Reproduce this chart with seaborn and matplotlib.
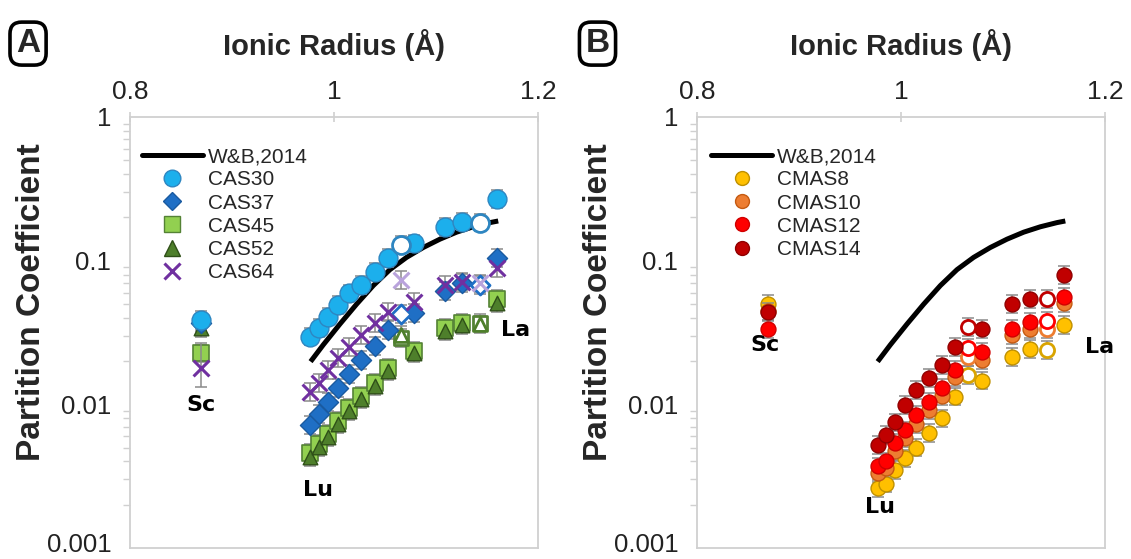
import numpy as np
import pandas as pd
import matplotlib
matplotlib.use("Agg")
import matplotlib.pyplot as plt
import matplotlib.transforms as mtransforms
import seaborn as sns
from matplotlib.lines import Line2D
from matplotlib.ticker import FixedLocator, LogLocator, NullFormatter

# ---------------- data ----------------
elements = ["Lu", "Yb", "Tm", "Er", "Ho", "Dy", "Tb", "Gd", "Eu", "Sm", "Nd", "Pr", "Ce", "La"]
radii = [0.977, 0.985, 0.994, 1.004, 1.015, 1.027, 1.040, 1.053, 1.066, 1.079, 1.109, 1.126, 1.143, 1.160]
sc_radius = 0.87
open_elements = ["Eu", "Ce"]

wb_radius = [0.9771, 0.9895, 1.0059, 1.0222, 1.0386, 1.0549, 1.0712, 1.0876, 1.1039, 1.1203, 1.1366, 1.1529, 1.1611]
wb_D = [0.01983, 0.02593, 0.03622, 0.04977, 0.06711, 0.0866, 0.1054, 0.1235, 0.1411, 0.1579, 0.1721, 0.1840, 0.1889]

cas30 = [0.0296, 0.0339, 0.0408, 0.0492, 0.0593, 0.0678, 0.0838, 0.104, 0.129, 0.132, 0.172, 0.187, 0.184, 0.268]
cas37 = [0.00719, 0.00857, 0.0104, 0.0130, 0.0163, 0.0204, 0.0255, 0.0329, 0.0426, 0.0433, 0.0615, 0.070, 0.0677, 0.1044]
cas45 = [0.00459, 0.00530, 0.00622, 0.00766, 0.00944, 0.01143, 0.01409, 0.0179, 0.0290, 0.0235, 0.0340, 0.0368, 0.0368, 0.0541]
cas52 = [0.00430, 0.00505, 0.00593, 0.00731, 0.00900, 0.01091, 0.01343, 0.0171, 0.0304, 0.0228, 0.0324, 0.0357, 0.0360, 0.0508]
cas64 = [0.0122, 0.0141, 0.0173, 0.0210, 0.0251, 0.0304, 0.0367, 0.0442, 0.0734, 0.0519, 0.0677, 0.0714, 0.0696, 0.0885]
cas_sc = {"CAS30": 0.0387, "CAS37": 0.037, "CAS45": 0.0226, "CAS52": 0.0338, "CAS64": 0.0178}

cmas8 = [0.0026, 0.0028, 0.0035, 0.0042, 0.0050, 0.0063, 0.0080, 0.0113, 0.0160, 0.0146, 0.0214, 0.0243, 0.0239, 0.0357]
cmas10 = [0.0033, 0.0036, 0.0047, 0.0058, 0.0073, 0.0091, 0.0114, 0.0155, 0.0214, 0.0204, 0.0304, 0.0335, 0.0335, 0.0508]
cmas12 = [0.0037, 0.0040, 0.0054, 0.0066, 0.0084, 0.0104, 0.0130, 0.0174, 0.0247, 0.0232, 0.0335, 0.0375, 0.0381, 0.0559]
cmas14 = [0.0052, 0.0061, 0.0075, 0.0099, 0.0126, 0.0153, 0.0188, 0.0251, 0.0346, 0.0335, 0.0500, 0.0541, 0.0541, 0.0795]
cmas_sc = {"CMAS8": 0.050, "CMAS10": 0.0445, "CMAS12": 0.0335, "CMAS14": 0.0440}

rel_err = 0.15            # typical relative error bar
sc_err_cas64 = (0.0046, 0.0088)   # (down, up)

x_ticks = [0.8, 1.0, 1.2]
x_tick_labels = ["0.8", "1", "1.2"]
y_ticks = [0.001, 0.01, 0.1, 1]
y_tick_labels = ["0.001", "0.01", "0.1", "1"]

# ---------------- style ----------------
sns.set_theme(style="white")
plt.rcParams["font.family"] = ["Liberation Sans", "DejaVu Sans"]

fig = plt.figure(figsize=(11.31, 5.59), dpi=100)
axA = fig.add_axes([0.1149, 0.0197, 0.3607, 0.771])
axB = fig.add_axes([0.6163, 0.0197, 0.3607, 0.771])

GRAY = "#d0d0d0"
ERRC = "#8a8a8a"


def frame(ax):
    ax.set_yscale("log")
    ax.set_xlim(0.8, 1.2)
    ax.set_ylim(0.001, 1)
    ax.xaxis.set_ticks_position("top")
    ax.xaxis.set_label_position("top")
    ax.xaxis.set_major_locator(FixedLocator(x_ticks))
    ax.set_xticklabels(x_tick_labels)
    ax.yaxis.set_major_locator(FixedLocator(y_ticks))
    ax.set_yticklabels(y_tick_labels)
    ax.yaxis.set_minor_locator(LogLocator(base=10, subs=np.arange(2, 10)))
    ax.yaxis.set_minor_formatter(NullFormatter())
    ax.tick_params(axis="x", which="major", labelsize=19, colors=GRAY,
                   labelcolor="#222222", length=7, width=1.2, direction="inout", pad=6)
    ax.tick_params(axis="y", which="major", labelsize=18.5, colors=GRAY,
                   labelcolor="#222222", length=7, width=1.2, direction="inout", pad=10)
    ax.tick_params(axis="y", which="minor", length=5, width=1, colors=GRAY, direction="out", left=True)
    for s in ax.spines.values():
        s.set_color(GRAY)
        s.set_linewidth(1.3)
    ax.set_xlabel("Ionic Radius (Å)", fontsize=21, fontweight="bold", labelpad=18)
    ax.set_ylabel("Partition Coefficient", fontsize=24, fontweight="bold")
    ax.yaxis.set_label_coords(-0.203, 0.57)
    ax.grid(False)
    # keep the bottom label inside the canvas
    lab = ax.get_yticklabels()[0]
    lab.set_transform(lab.get_transform() + mtransforms.ScaledTranslation(0, 5 / 100, fig.dpi_scale_trans))


def series(ax, vals, sc_val, marker, face, edge, size, lw=1.0, open_edge=None,
           open_face="white", open_lw=2.0, z=3, sc_err=None):
    df = pd.DataFrame({"r": radii + [sc_radius], "D": vals + [sc_val], "el": elements + ["Sc"]})
    df["open"] = df["el"].isin(open_elements)
    lo = df["D"] - df["D"] / (1 + rel_err)
    hi = df["D"] * rel_err
    if sc_err is not None:
        lo.iloc[-1] = sc_err[0]
        hi.iloc[-1] = sc_err[1]
    ax.errorbar(df["r"], df["D"], yerr=[lo, hi], fmt="none", ecolor=ERRC,
                elinewidth=1.1, capsize=4, capthick=1.1, zorder=z - 0.5)
    filled = df[~df["open"]]
    hollow = df[df["open"]]
    if marker == "x":
        sns.scatterplot(data=filled, x="r", y="D", marker="x", s=size, color=face,
                        linewidth=lw, ax=ax, zorder=z, legend=False)
        sns.scatterplot(data=hollow, x="r", y="D", marker="x", s=size, color=open_edge,
                        linewidth=lw, ax=ax, zorder=z, legend=False)
    else:
        sns.scatterplot(data=filled, x="r", y="D", marker=marker, s=size, color=face,
                        edgecolor=edge, linewidth=lw, ax=ax, zorder=z, legend=False)
        sns.scatterplot(data=hollow, x="r", y="D", marker=marker, s=size * 0.9, color=open_face,
                        edgecolor=open_edge or edge, linewidth=open_lw, ax=ax, zorder=z, legend=False)


def wb_curve(ax):
    sns.lineplot(x=wb_radius, y=wb_D, color="black", linewidth=3.6, ax=ax, zorder=2.5,
                 solid_capstyle="butt", solid_joinstyle="round")


label_kw = dict(fontsize=16, fontweight="bold", family="DejaVu Sans", color="black",
                ha="center", va="center")
leg_kw = dict(loc="upper left", frameon=False, fontsize=15, handlelength=2.9, handletextpad=0.25,
              labelspacing=0.2, borderpad=0, borderaxespad=0)

# ---------------- Panel A ----------------
frame(axA)
wb_curve(axA)
series(axA, cas45, cas_sc["CAS45"], "s", "#92D050", "#548235", 125, lw=1.2, open_edge="#548235", z=3)
series(axA, cas52, cas_sc["CAS52"], "^", "#4E7F2B", "#2F5018", 110, lw=1.0, open_edge="#4E7F2B", z=3.2)
series(axA, cas37, cas_sc["CAS37"], "D", "#1F6FC5", "#1A5AA0", 105, lw=1.0, open_edge="#1F6FC5", z=3.4)
series(axA, cas64, cas_sc["CAS64"], "x", "#7030A0", None, 130, lw=2.2, open_edge="#B9A3DC", z=3.6,
       sc_err=sc_err_cas64)
series(axA, cas30, cas_sc["CAS30"], "o", "#1CAFEC", "#2E86C1", 185, lw=1.0, open_edge="#2E86C1", z=3.8)

axA.text(0.87, 0.0099, "Sc", **label_kw)
axA.text(0.984, 0.00254, "Lu", **label_kw)
axA.text(1.178, 0.0329, "La", **label_kw)

handlesA = [
    Line2D([], [], color="black", lw=3.6, label="W&B,2014"),
    Line2D([], [], ls="none", marker="o", ms=12, mfc="#1CAFEC", mec="#2E86C1", label="CAS30"),
    Line2D([], [], ls="none", marker="D", ms=9, mfc="#1F6FC5", mec="#1A5AA0", label="CAS37"),
    Line2D([], [], ls="none", marker="s", ms=11, mfc="#92D050", mec="#548235", label="CAS45"),
    Line2D([], [], ls="none", marker="^", ms=11, mfc="#4E7F2B", mec="#2F5018", label="CAS52"),
    Line2D([], [], ls="none", marker="x", ms=11, mew=2.2, color="#7030A0", label="CAS64"),
]
legA = axA.legend(handles=handlesA, bbox_to_anchor=(0.03, 0.93), **leg_kw)
legA.set_zorder(10)

# ---------------- Panel B ----------------
frame(axB)
wb_curve(axB)
series(axB, cmas8, cmas_sc["CMAS8"], "o", "#FFC000", "#BF9000", 115, lw=1.0, open_edge="#D9A400", z=3)
series(axB, cmas10, cmas_sc["CMAS10"], "o", "#ED7D31", "#C55A11", 115, lw=1.0, open_edge="#ED7D31", z=3.2)
series(axB, cmas12, cmas_sc["CMAS12"], "o", "#FF0000", "#D00000", 115, lw=1.0, open_edge="#FF0000", z=3.4)
series(axB, cmas14, cmas_sc["CMAS14"], "o", "#C00000", "#900000", 115, lw=1.0, open_edge="#C00000", z=3.6)

axB.text(0.867, 0.0259, "Sc", **label_kw)
axB.text(0.979, 0.00193, "Lu", **label_kw)
axB.text(1.195, 0.0252, "La", **label_kw)

handlesB = [
    Line2D([], [], color="black", lw=3.6, label="W&B,2014"),
    Line2D([], [], ls="none", marker="o", ms=10, mfc="#FFC000", mec="#BF9000", label="CMAS8"),
    Line2D([], [], ls="none", marker="o", ms=10, mfc="#ED7D31", mec="#C55A11", label="CMAS10"),
    Line2D([], [], ls="none", marker="o", ms=10, mfc="#FF0000", mec="#D00000", label="CMAS12"),
    Line2D([], [], ls="none", marker="o", ms=10, mfc="#C00000", mec="#900000", label="CMAS14"),
]
legB = axB.legend(handles=handlesB, bbox_to_anchor=(0.035, 0.93), **leg_kw)
legB.set_zorder(10)

# panel letters
box = dict(boxstyle="round,pad=0.18,rounding_size=0.35", facecolor="white", edgecolor="black", linewidth=2.6)
fig.text(0.0248, 0.922, "A", fontsize=24, fontweight="bold", ha="center", va="center", bbox=box)
fig.text(0.5283, 0.922, "B", fontsize=24, fontweight="bold", ha="center", va="center", bbox=box)

fig.savefig("out.png", dpi=100)
